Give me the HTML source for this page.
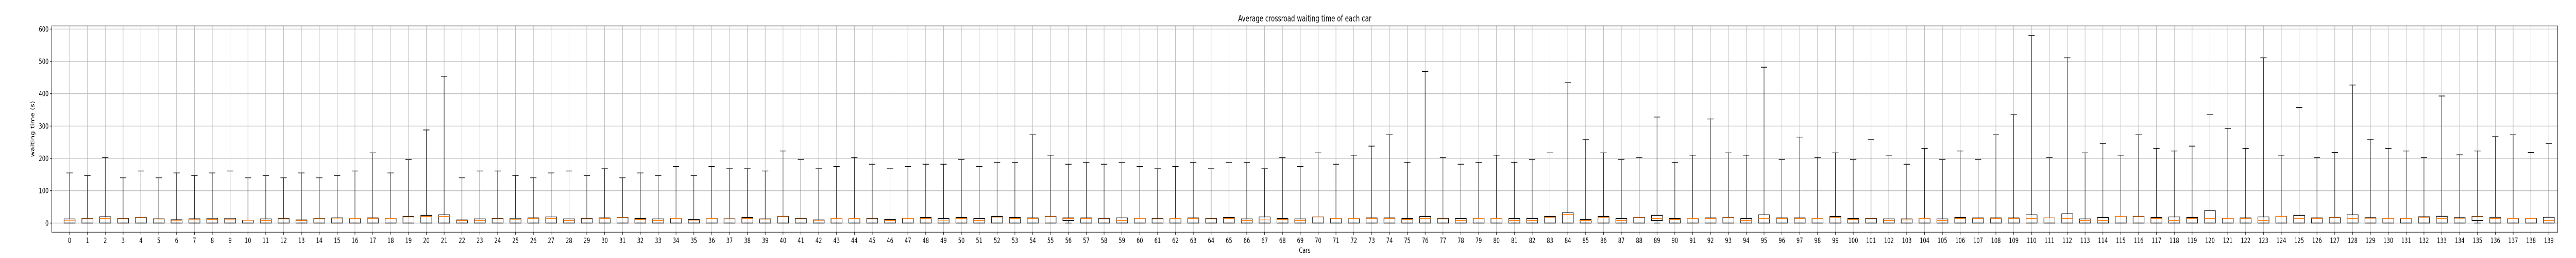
<!DOCTYPE html>
<html><head><meta charset="utf-8"><title>Average crossroad waiting time of each car</title>
<style>
html,body{margin:0;padding:0;background:#fff;width:100%;height:100%;overflow:hidden;}
svg{display:block;position:absolute;left:0;top:0;width:100vw;height:100vh;font-family:"DejaVu Sans","Liberation Sans",sans-serif;}
</style></head>
<body>
<svg id="chart" viewBox="0 0 7000 500" preserveAspectRatio="none" xmlns="http://www.w3.org/2000/svg">
<rect x="0" y="0" width="7000" height="500" fill="#fff"/>
<g id="grid"></g>
<g id="boxes"></g>
<rect x="140.6" y="50.3" width="6809.8" height="399.7" fill="none" stroke="#000" stroke-width="1.1"/>
<g id="xticks"></g>
<g id="yticks"></g>
<text x="3545.5" y="41.5" text-anchor="middle" font-size="16.7" fill="#000">Average crossroad waiting time of each car</text>
<text x="3545.5" y="490" text-anchor="middle" font-size="13.9" fill="#000">Cars</text>
<text x="0" y="0" transform="translate(93,250) rotate(-90)" text-anchor="middle" font-size="13.9" fill="#000">waiting time (s)</text>
</svg>
<script>
const whiskerHigh = [155,147,203,140,161,140,155,147,155,161,140,
147,140,155,140,147,161,217,155,196,288,454,140,161,161,147,
140,155,161,147,168,140,155,147,175,147,175,168,168,161,
223,196,168,175,203,182,168,175,182,182,196,175,188,188,
273,210,182,188,182,188,175,168,175,188,168,188,188,168,203,
175,217,182,210,238,273,188,469,203,182,188,210,188,196,
217,434,259,217,196,203,328,188,210,322,217,210,482,196,266,
203,217,196,259,210,182,231,196,223,196,273,335,580,203,
511,217,246,210,273,231,223,238,335,293,231,511,210,357,203,
218,427,259,231,223,203,393,211,223,267,273,218,246];
const q3 = [12.7,14,19.4,14,18,13,10,13,15,15,9,
12.8,14.3,9.6,14.3,16,14.3,16,14.3,20.7,24,25.5,9.6,12.8,14.3,15,
16,19,12.8,14.3,16,17,14.3,12.8,14.3,11.2,14.3,13.3,17.5,12.8,
20.7,14.3,9.6,14.3,14.3,14.3,11.2,14.3,17.5,14.3,17.5,14.3,20.7,17.5,
16,20.7,16,16,14.3,16,14.3,14.3,14.3,16,14.3,17.5,12.8,19,14.3,
12.8,19,14.3,14.3,16,16,14.3,20.7,14.3,14.3,14.3,14.3,14.3,14.3,
20.7,31.9,11.2,20.7,14.3,17.5,24,14.3,14.3,16,17.5,14.3,25.5,16,16,
14.3,20.7,14.3,14.3,12.8,12.8,14.3,12.8,17.5,16,16,16,25.5,16,
28.7,12.8,17.5,20.7,20.7,17.5,19,17.5,38.3,14.3,16,19,20.7,24,16,
18,25.5,16.5,15,15,19.4,21,16.5,20.5,18,15,15,18];
const median = [8.5,13,14,13,16.5,12.5,8.5,10,11,10,8.5,
8,12.8,8,13.3,12.8,14.3,14.3,14.3,19,20.7,20.7,8,8,12.8,11.7,
14.3,14.3,8,12.8,14.3,16.5,11.2,8,13.8,9,14.3,12.8,14.3,12.2,
19.7,12.8,8.5,14.3,14.3,12.8,8,14.3,14.3,9,14.3,8,16,14.3,
14.3,19.7,14.3,14.3,12.8,8,14.3,12.8,14.3,14.3,12.8,14.3,8,9.6,11.2,
8,19,14.3,14.3,14.3,14.3,11.2,14.3,12.8,8,14.3,14.3,8,8,
18,27,8,18,8,16.5,14.3,11.2,14.3,14.3,16.5,8,14.3,14.3,14.3,
14.3,18,11.2,12.8,8,9.6,14.3,8,14.3,14.3,14.3,14.3,14.3,16,
14.3,8,8,20.7,19.7,14.3,8,14.3,14.3,14.3,14.3,8,20.7,14.3,14.3,
16.5,14,15,14,14,18,14,15,19.5,14,14,14,8];
const q1Nonzero = {56: 8, 89: 8, 135: 8};
const q1 = whiskerHigh.map((v, i) => (q1Nonzero[i] !== undefined ? q1Nonzero[i] : 0));
const whiskerLow = whiskerHigh.map(() => 0);
const categories = whiskerHigh.map((v, i) => String(i));
const yTickValues = [0, 100, 200, 300, 400, 500, 600];

const NS = "http://www.w3.org/2000/svg";
const X0 = 140.6, X1 = 6950.4, Y0 = 450, Y1 = 50.3;
const xMin = -1, xMax = 139.5, yMin = -28.2, yMax = 609.6;
function xScale(i) { return X0 + (i - xMin) / (xMax - xMin) * (X1 - X0); }
function yScale(v) { return Y0 - (v - yMin) / (yMax - yMin) * (Y0 - Y1); }
function mk(tag, attrs, parent) {
  const el = document.createElementNS(NS, tag);
  for (const k in attrs) el.setAttribute(k, attrs[k]);
  parent.appendChild(el);
  return el;
}
const grid = document.getElementById('grid');
const boxes = document.getElementById('boxes');
const xt = document.getElementById('xticks');
const yt = document.getElementById('yticks');

yTickValues.forEach(v => {
  const y = yScale(v);
  const g = mk('line', {x1: X0, x2: X1, y1: y, y2: y, stroke: '#b0b0b0', 'stroke-width': 1.1}, grid);
  
  
  const t = mk('line', {x1: X0 - 4.9, x2: X0, y1: y, y2: y, stroke: '#000', 'stroke-width': 1.1}, yt);
  
  
  const lab = mk('text', {x: X0 - 8.5, y: y + 5, 'text-anchor': 'end', 'font-size': 13.9, fill: '#000'}, yt);
  lab.textContent = String(v);
  
  
});

const boxW = 30, capW = 17;
categories.forEach((c, i) => {
  const x = xScale(i);
  const g = mk('line', {x1: x, x2: x, y1: Y1, y2: Y0, stroke: '#b0b0b0', 'stroke-width': 1.1}, grid);
  
  
  const t = mk('line', {x1: x, x2: x, y1: Y0, y2: Y0 + 4.9, stroke: '#000', 'stroke-width': 1.1}, xt);
  
  
  const lab = mk('text', {x: x, y: 471, 'text-anchor': 'middle', 'font-size': 13.9, fill: '#000'}, xt);
  lab.textContent = c;
  
  

  const grp = mk('g', {}, boxes);
  
  
  const yq3 = yScale(q3[i]), yq1 = yScale(q1[i]), yHi = yScale(whiskerHigh[i]), yLo = yScale(whiskerLow[i]), yMed = yScale(median[i]);
  const wu = mk('line', {x1: x, x2: x, y1: yHi, y2: yq3, stroke: '#000', 'stroke-width': 1.1}, grp);
  
  
  const cu = mk('line', {x1: x - capW / 2, x2: x + capW / 2, y1: yHi, y2: yHi, stroke: '#000', 'stroke-width': 1.3}, grp);
  
  
  if (yLo > yq1 + 0.5) {
    const wl = mk('line', {x1: x, x2: x, y1: yq1, y2: yLo, stroke: '#000', 'stroke-width': 1.1}, grp);
    
    
  }
  const cl = mk('line', {x1: x - capW / 2, x2: x + capW / 2, y1: yLo, y2: yLo, stroke: '#000', 'stroke-width': 1.1}, grp);
  
  
  const r = mk('rect', {x: x - boxW / 2, y: yq3, width: boxW, height: Math.max(0.5, yq1 - yq3), fill: 'none', stroke: '#000', 'stroke-width': 1.3}, grp);
  
  
  const m = mk('line', {x1: x - boxW / 2, x2: x + boxW / 2, y1: yMed, y2: yMed, stroke: '#ff7f0e', 'stroke-width': 1.3}, grp);
  
  
});
</script>
</body></html>
